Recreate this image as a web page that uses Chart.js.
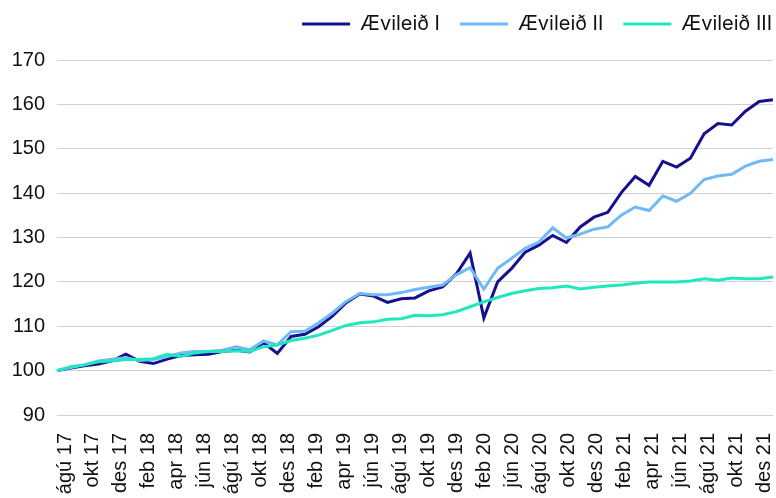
<!DOCTYPE html>
<html><head><meta charset="utf-8">
<script src="https://cdn.jsdelivr.net/npm/chart.js@4/dist/chart.umd.min.js"></script>
<style>html,body{margin:0;padding:0;background:#fff}#wrap{width:776px;height:498px}</style>
</head><body><div id="wrap"><canvas id="c" width="776" height="498"></canvas></div>
<script>
// Monthly categories (data points)
const months = [
  'ágú 17','sep 17','okt 17','nóv 17','des 17',
  'jan 18','feb 18','mar 18','apr 18','maí 18','jún 18','júl 18','ágú 18','sep 18','okt 18','nóv 18','des 18',
  'jan 19','feb 19','mar 19','apr 19','maí 19','jún 19','júl 19','ágú 19','sep 19','okt 19','nóv 19','des 19',
  'jan 20','feb 20','mar 20','apr 20','maí 20','jún 20','júl 20','ágú 20','sep 20','okt 20','nóv 20','des 20',
  'jan 21','feb 21','mar 21','apr 21','maí 21','jún 21','júl 21','ágú 21','sep 21','okt 21','nóv 21','des 21'
];
// Axis tick labels as shown
const tickLabels = [
  'ágú 17','okt 17','des 17','feb 18','apr 18','jún 18','ágú 18','okt 18','des 18',
  'feb 19','apr 19','jún 19','ágú 19','okt 19','des 19','feb 20','jún 20','ágú 20',
  'okt 20','des 20','feb 21','apr 21','jún 21','ágú 21','okt 21','des 21'
];
const seriesNames = ['Ævileið I', 'Ævileið II', 'Ævileið III'];
const aevileid1 = [
  100.0,100.6,101.1,101.5,102.2,103.7,102.1,101.6,102.6,103.4,103.6,103.7,104.3,104.6,104.2,106.3,103.9,
  107.7,108.2,109.9,112.3,115.3,117.3,116.8,115.4,116.2,116.4,118.0,118.9,
  121.8,126.5,111.9,120.0,123.0,126.7,128.3,130.5,128.9,132.4,134.6,135.7,
  140.2,143.8,141.8,147.2,145.9,147.9,153.4,155.7,155.4,158.5,160.7,161.1
];
const aevileid2 = [
  100.0,100.7,101.3,102.2,102.6,102.9,102.3,102.5,103.2,104.0,104.3,104.3,104.6,105.4,104.7,106.7,105.8,
  108.8,108.9,110.8,113.0,115.6,117.4,117.1,117.1,117.6,118.3,118.8,119.3,
  121.6,123.2,118.4,123.1,125.3,127.6,129.0,132.2,129.9,130.8,131.9,132.4,
  135.1,136.9,136.1,139.4,138.2,140.0,143.1,143.9,144.3,146.1,147.2,147.6
];
const aevileid3 = [
  100.0,100.9,101.3,102.0,102.2,102.5,102.5,102.7,103.7,103.2,104.0,104.3,104.3,104.5,104.3,105.4,105.8,
  106.8,107.3,108.0,109.1,110.2,110.8,111.0,111.6,111.7,112.5,112.4,112.6,
  113.3,114.4,115.5,116.5,117.4,118.0,118.5,118.7,119.1,118.4,118.8,119.1,
  119.3,119.7,120.0,120.0,120.0,120.2,120.7,120.4,120.9,120.7,120.7,121.1
];
const colors = ['#16108f', '#6fbaf6', '#1fe8c0'];
const yTicks = {min: 90, max: 170, step: 10};

const tickFont = {family: "'Liberation Sans', Arial, sans-serif", size: 20};
const series = [aevileid1, aevileid2, aevileid3];

new Chart(document.getElementById('c'), {
  type: 'line',
  data: {
    labels: months,
    datasets: series.map((d, i) => ({
      label: seriesNames[i],
      data: d,
      borderColor: colors[i],
      backgroundColor: colors[i],
      borderWidth: 3,
      pointRadius: 0,
      tension: 0,
      fill: false,
      order: 3 - i,
      xAxisID: 'x',
      yAxisID: 'y'
    }))
  },
  options: {
    responsive: false,
    animation: false,
    devicePixelRatio: 1,
    layout: {padding: {top: -6, right: -16, left: 0, bottom: 0}},
    plugins: {
      tooltip: {enabled: false},
      legend: {
        position: 'top',
        align: 'end',
        labels: {
          usePointStyle: true,
          pointStyle: 'line',
          pointStyleWidth: 48,
          padding: 20,
          color: '#111',
          font: {family: "Inter, 'Noto Sans', sans-serif", size: 20},
          sort: (a, b) => a.datasetIndex - b.datasetIndex
        }
      },
      title: {
        display: true,
        text: '',
        position: 'top',
        weight: 500,
        font: {size: 1},
        padding: {top: 0, bottom: 15}
      }
    },
    scales: {
      x: {type: 'category', display: false},
      x2: {
        type: 'linear',
        position: 'bottom',
        min: -0.286,
        max: 25.322,
        afterBuildTicks: s => { s.ticks = tickLabels.map((_, k) => ({value: k})); },
        afterFit: s => { s.height = 83; s.paddingRight = 3; s.paddingLeft = 0; },
        grid: {display: false, drawTicks: false},
        border: {display: false},
        ticks: {
          autoSkip: false, minRotation: 90, maxRotation: 90, padding: 18,
          color: '#111', font: tickFont,
          callback: v => tickLabels[v]
        }
      },
      y: {
        min: yTicks.min, max: yTicks.max,
        afterFit: s => { s.width = 57; },
        border: {display: false},
        grid: {color: '#d2d2d2', lineWidth: 1, drawTicks: false},
        ticks: {stepSize: yTicks.step, padding: 12, color: '#111', font: tickFont}
      }
    }
  }
});
</script></body></html>
